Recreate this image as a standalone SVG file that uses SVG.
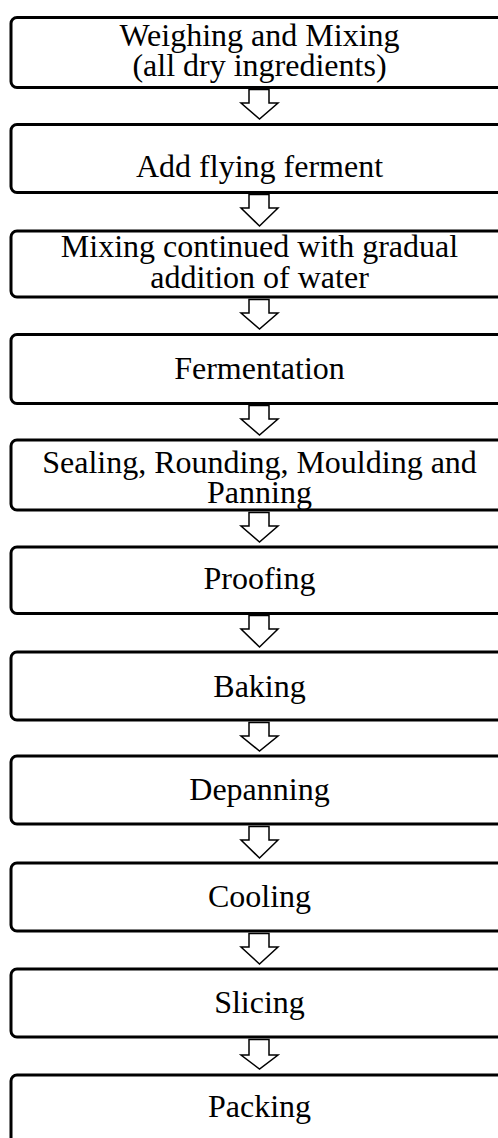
<svg xmlns="http://www.w3.org/2000/svg" width="498" height="1138" viewBox="0 0 498 1138">
<style>
.box{fill:#fff;stroke:#000;stroke-width:3}
.t{font-family:"Liberation Serif","Times New Roman",serif;font-size:32px;fill:#000;text-anchor:middle}
.arr{fill:#fff;stroke:#000;stroke-width:1.5;stroke-linejoin:miter}
</style>
<rect width="498" height="1138" fill="#fff"/>
<g id="connectors">
<path class="arr" d="M249,89.5 V103 H241 L259.5,119 L278,103 H269 V89.5 Z"/>
<path class="arr" d="M249,194.5 V208 H241 L259.5,226 L278,208 H269 V194.5 Z"/>
<path class="arr" d="M249,299.5 V313 H241 L259.5,329 L278,313 H269 V299.5 Z"/>
<path class="arr" d="M249,405.5 V419 H241 L259.5,435 L278,419 H269 V405.5 Z"/>
<path class="arr" d="M249,512.5 V526 H241 L259.5,542 L278,526 H269 V512.5 Z"/>
<path class="arr" d="M249,615.5 V629 H241 L259.5,647 L278,629 H269 V615.5 Z"/>
<path class="arr" d="M249,722.5 V736 H241 L259.5,751 L278,736 H269 V722.5 Z"/>
<path class="arr" d="M249,826.5 V840 H241 L259.5,858 L278,840 H269 V826.5 Z"/>
<path class="arr" d="M249,933.5 V947 H241 L259.5,964 L278,947 H269 V933.5 Z"/>
<path class="arr" d="M249,1039.5 V1055 H241 L259.5,1069 L278,1055 H269 V1039.5 Z"/>
</g>
<g id="n1"><rect class="box" x="11" y="17.5" width="500" height="70" rx="6"/><text class="t" x="259.5" y="46">Weighing and Mixing</text><text class="t" x="259.5" y="76">(all dry ingredients)</text></g>
<g id="n2"><rect class="box" x="11" y="124.5" width="500" height="68" rx="6"/><text class="t" x="259.5" y="177">Add flying ferment</text></g>
<g id="n3"><rect class="box" x="11" y="231" width="500" height="66" rx="6"/><text class="t" x="259.5" y="257">Mixing continued with gradual</text><text class="t" x="259.5" y="288">addition of water</text></g>
<g id="n4"><rect class="box" x="11" y="334.5" width="500" height="69" rx="6"/><text class="t" x="259.5" y="379">Fermentation</text></g>
<g id="n5"><rect class="box" x="11" y="440" width="500" height="70" rx="6"/><text class="t" x="259.5" y="473">Sealing, Rounding, Moulding and</text><text class="t" x="259.5" y="503">Panning</text></g>
<g id="n6"><rect class="box" x="11" y="547" width="500" height="66.5" rx="6"/><text class="t" x="259.5" y="589">Proofing</text></g>
<g id="n7"><rect class="box" x="11" y="652" width="500" height="68" rx="6"/><text class="t" x="259.5" y="697">Baking</text></g>
<g id="n8"><rect class="box" x="11" y="756" width="500" height="68" rx="6"/><text class="t" x="259.5" y="800">Depanning</text></g>
<g id="n9"><rect class="box" x="11" y="863" width="500" height="68" rx="6"/><text class="t" x="259.5" y="907">Cooling</text></g>
<g id="n10"><rect class="box" x="11" y="969" width="500" height="68" rx="6"/><text class="t" x="259.5" y="1013">Slicing</text></g>
<g id="n11"><rect class="box" x="11" y="1075" width="500" height="80" rx="6"/><text class="t" x="259.5" y="1117">Packing</text></g>
</svg>
